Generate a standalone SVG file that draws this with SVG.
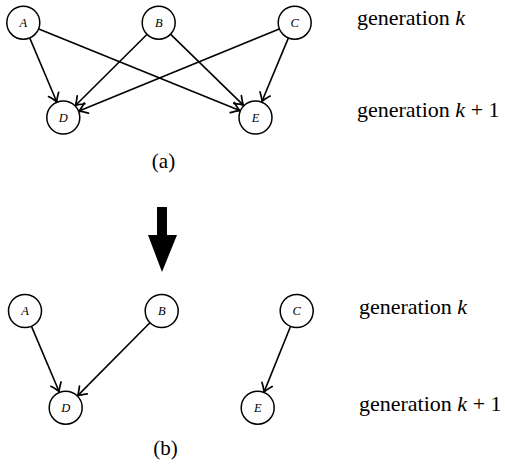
<svg xmlns="http://www.w3.org/2000/svg" width="505" height="470" viewBox="0 0 505 470">
<style>
.node circle{fill:#fff;stroke:#000;stroke-width:1.5}
.node text{font-family:"Liberation Serif",serif;font-style:italic;font-size:12.5px;text-anchor:middle}
.edges line{stroke:#000;stroke-width:1.6;marker-end:url(#ah)}
.lbl{font-family:"Liberation Serif",serif;font-size:22px}
.cap{font-family:"Liberation Serif",serif;font-size:21px;text-anchor:middle}
</style>
<defs>
<marker id="ah" markerUnits="userSpaceOnUse" markerWidth="16" markerHeight="16" viewBox="-12 -8 14 16" refX="0" refY="0" orient="auto">
<path d="M-8,-5.5 Q-2.5,-1.2 0,0 Q-2.5,1.2 -8,5.5" fill="none" stroke="#000" stroke-width="1.7" stroke-linecap="round"/>
</marker>
</defs>
<rect width="505" height="470" fill="#fff"/>
<g class="edges" id="edges-a">
<line x1="29.8" y1="38.1" x2="56.7" y2="101.8"/>
<line x1="38.8" y1="29.0" x2="239.7" y2="110.6"/>
<line x1="146.9" y1="34.5" x2="75.4" y2="105.5"/>
<line x1="170.7" y1="34.4" x2="243.3" y2="105.1"/>
<line x1="279.2" y1="29.0" x2="79.0" y2="111.1"/>
<line x1="288.3" y1="38.1" x2="262.0" y2="101.3"/>
</g>
<g id="a-A" class="node"><circle cx="23.3" cy="22.7" r="16.5"/><text x="23.3" y="27">A</text></g>
<g id="a-B" class="node"><circle cx="158.7" cy="22.7" r="16.5"/><text x="158.7" y="27">B</text></g>
<g id="a-C" class="node"><circle cx="294.7" cy="22.7" r="16.5"/><text x="294.7" y="27">C</text></g>
<g id="a-D" class="node"><circle cx="63.3" cy="117.5" r="16.5"/><text x="63.3" y="121.8">D</text></g>
<g id="a-E" class="node"><circle cx="255.5" cy="117.5" r="16.5"/><text x="255.5" y="121.8">E</text></g>
<text class="lbl" x="357" y="25">generation <tspan font-style="italic">k</tspan></text>
<text class="lbl" x="357" y="117">generation <tspan font-style="italic">k</tspan> + 1</text>
<text class="cap" x="163.5" y="168">(a)</text>
<polygon points="157,207 167,207 167,235 177,235 162,272 148,235 157,235" fill="#000"/>
<g class="edges" id="edges-b">
<line x1="31.5" y1="326.4" x2="59.1" y2="391.5"/>
<line x1="149.9" y1="322.8" x2="77.7" y2="395.6"/>
<line x1="290.5" y1="326.5" x2="264.1" y2="391.9"/>
</g>
<g id="b-A" class="node"><circle cx="25" cy="311" r="16.5"/><text x="25" y="315.3">A</text></g>
<g id="b-B" class="node"><circle cx="161.7" cy="311" r="16.5"/><text x="161.7" y="315.3">B</text></g>
<g id="b-C" class="node"><circle cx="296.7" cy="311" r="16.5"/><text x="296.7" y="315.3">C</text></g>
<g id="b-D" class="node"><circle cx="65.7" cy="407.7" r="16.5"/><text x="65.7" y="412">D</text></g>
<g id="b-E" class="node"><circle cx="257.7" cy="407.7" r="16.5"/><text x="257.7" y="412">E</text></g>
<text class="lbl" x="359" y="314">generation <tspan font-style="italic">k</tspan></text>
<text class="lbl" x="359" y="411">generation <tspan font-style="italic">k</tspan> + 1</text>
<text class="cap" x="165.5" y="455">(b)</text>
</svg>
